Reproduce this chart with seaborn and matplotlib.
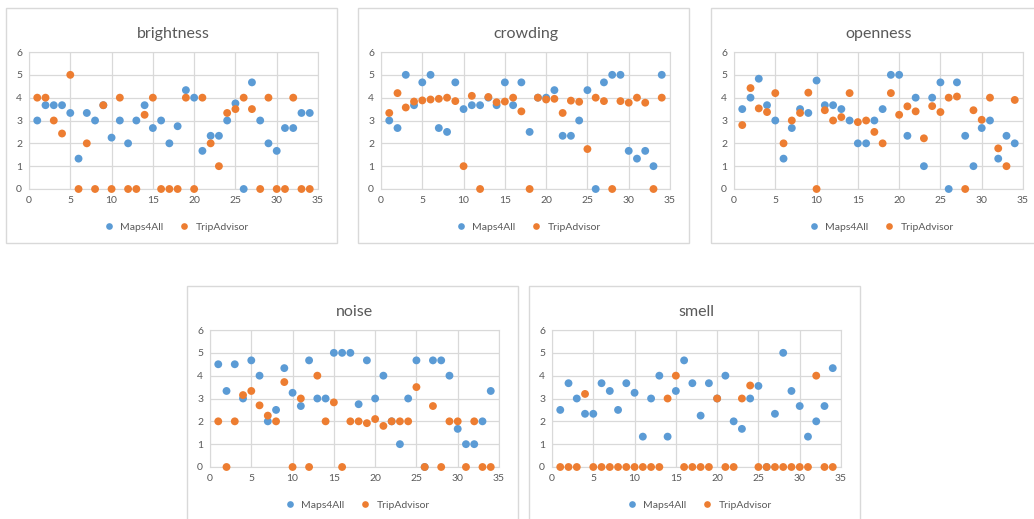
import matplotlib
matplotlib.use("Agg")
import matplotlib.pyplot as plt
import seaborn as sns
import pandas as pd
from matplotlib.patches import Rectangle

x_vals = list(range(1, 35))

brightness_maps = [3, 3.67, 3.67, 3.67, 3.33, 1.33, 3.33, 3, 3.67, 2.25, 3, 2, 3, 3.67, 2.67, 3, 2,
                   2.75, 4.33, 4, 1.67, 2.33, 2.33, 3, 3.75, 0, 4.67, 3, 2, 1.67, 2.67, 2.67, 3.33, 3.33]
brightness_trip = [4, 4, 3, 2.43, 5, 0, 2, 0, 3.67, 0, 4, 0, 0, 3.25, 4, 0, 0,
                   0, 4, 0, 4, 2, 1, 3.33, 3.5, 4, 3.5, 0, 4, 0, 0, 4, 0, 0]

crowding_maps = [3, 2.67, 5, 3.67, 4.67, 5, 2.67, 2.5, 4.67, 3.5, 3.67, 3.67, 4, 3.67, 4.67, 3.67, 4.67,
                 2.5, 4, 4, 4.33, 2.33, 2.33, 3, 4.33, 0, 4.67, 5, 5, 1.67, 1.33, 1.67, 1, 5]
crowding_trip = [3.33, 4.2, 3.57, 3.83, 3.88, 3.92, 3.95, 4, 3.85, 1, 4.08, 0, 4.03, 3.8, 3.83, 4, 3.4,
                 0, 4, 3.92, 3.95, 3.33, 3.87, 3.82, 1.75, 4, 3.85, 0, 3.85, 3.78, 4, 3.78, 0, 4]

openness_maps = [3.5, 4, 4.83, 3.67, 3, 1.33, 2.67, 3.5, 3.33, 4.75, 3.67, 3.67, 3.5, 3, 2, 2, 3,
                 3.5, 5, 5, 2.33, 4, 1, 4, 4.67, 0, 4.67, 2.33, 1, 2.67, 3, 1.33, 2.33, 2]
openness_trip = [2.8, 4.42, 3.53, 3.37, 4.2, 2, 3, 3.33, 4.22, 0, 3.45, 3, 3.15, 4.2, 2.93, 3, 2.5,
                 2, 4.2, 3.25, 3.62, 3.4, 2.22, 3.63, 3.37, 4, 4.05, 0, 3.45, 3.03, 4, 1.78, 1, 3.9]

noise_maps = [4.5, 3.33, 4.5, 3, 4.67, 4, 2, 2.5, 4.33, 3.25, 2.67, 4.67, 3, 3, 5, 5, 5,
              2.75, 4.67, 3, 4, 2, 1, 3, 4.67, 0, 4.67, 4.67, 4, 1.67, 1, 1, 2, 3.33]
noise_trip = [2, 0, 2, 3.15, 3.33, 2.7, 2.25, 2, 3.72, 0, 3, 0, 4, 2, 2.83, 0, 2,
              2, 1.92, 2.1, 1.8, 2, 2, 2, 3.5, 0, 2.67, 0, 2, 2, 0, 2, 0, 0]

smell_maps = [2.5, 3.67, 3, 2.33, 2.33, 3.67, 3.33, 2.5, 3.67, 3.25, 1.33, 3, 4, 1.33, 3.33, 4.67, 3.67,
              2.25, 3.67, 3, 4, 2, 1.67, 3, 3.55, 0, 2.33, 5, 3.33, 2.67, 1.33, 2, 2.67, 4.33]
smell_trip = [0, 0, 0, 3.2, 0, 0, 0, 0, 0, 0, 0, 0, 0, 3, 4, 0, 0,
              0, 0, 3, 0, 0, 3, 3.57, 0, 0, 0, 0, 0, 0, 0, 4, 0, 0]

panels = [
    ("brightness", brightness_maps, brightness_trip, (6, 8)),
    ("crowding", crowding_maps, crowding_trip, (358, 8)),
    ("openness", openness_maps, openness_trip, (711, 8)),
    ("noise", noise_maps, noise_trip, (187, 286)),
    ("smell", smell_maps, smell_trip, (529, 286)),
]

W, H = 1034, 519
BLUE = "#5B9BD5"
ORANGE = "#ED7D31"
GRID = "#D9D9D9"
TXT = "#595959"

sns.set_style("white")
plt.rcParams["font.family"] = ["Lato", "DejaVu Sans"]

fig = plt.figure(figsize=(W / 100, H / 100), dpi=100)


def fig_rect(l, t, w, h):
    return [l / W, 1 - (t + h) / H, w / W, h / H]


for title, maps, trip, (bl, bt) in panels:
    # rahmen um jedes diagramm
    box = Rectangle((bl / W, 1 - (bt + 235) / H), 331 / W, 235 / H, transform=fig.transFigure,
                    fill=False, edgecolor=GRID, linewidth=1.0)
    fig.patches.append(box)

    df = pd.DataFrame({
        "x": x_vals * 2,
        "y": maps + trip,
        "source": ["Maps4All"] * len(maps) + ["TripAdvisor"] * len(trip),
    })

    ax = fig.add_axes(fig_rect(bl + 23, bt + 44, 289, 137))
    sns.scatterplot(data=df, x="x", y="y", hue="source", palette=[BLUE, ORANGE],
                    s=32, edgecolor="none", ax=ax, zorder=3, clip_on=False)
    ax.set_xlim(0, 35)
    ax.set_ylim(0, 6)
    ax.set_xticks(range(0, 36, 5))
    ax.set_yticks(range(0, 7))
    ax.grid(True, color=GRID, linewidth=0.9)
    ax.set_axisbelow(True)
    for s in ax.spines.values():
        s.set_color(GRID)
    ax.tick_params(length=0, labelsize=7.5, labelcolor=TXT, pad=5)
    ax.set_xlabel("")
    ax.set_ylabel("")
    ax.set_title(title, fontsize=11.5, color=TXT, pad=10)
    sns.move_legend(ax, "center", bbox_to_anchor=(0.5, -0.28), ncol=2, frameon=False,
                    title=None, fontsize=7.5, handletextpad=0.1, columnspacing=1.0,
                    markerscale=0.85)
    for t in ax.get_legend().get_texts():
        t.set_color(TXT)

fig.savefig("out.png", dpi=100)
